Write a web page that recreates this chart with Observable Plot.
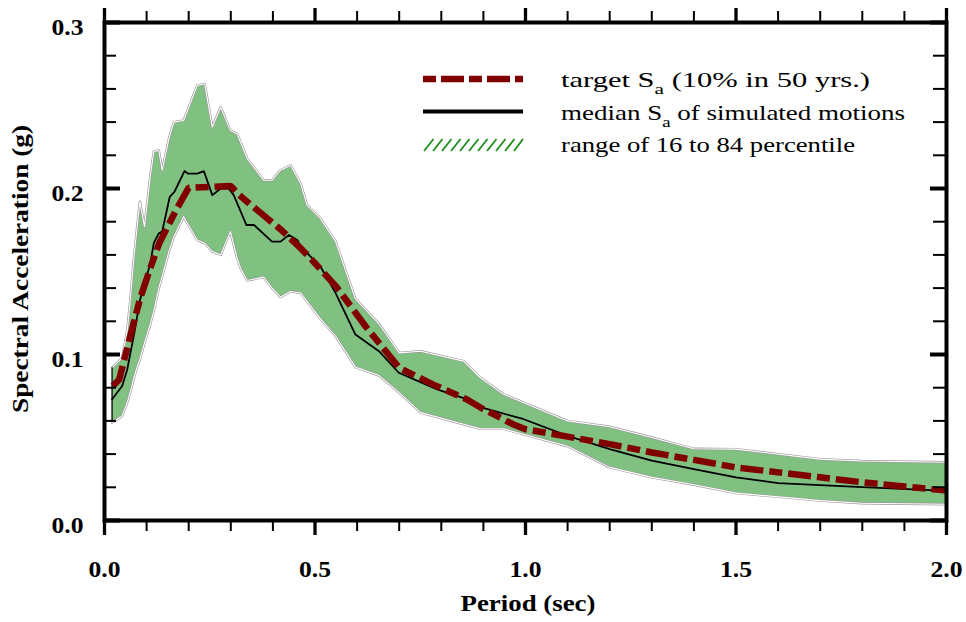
<!DOCTYPE html>
<html><head><meta charset="utf-8">
<script src="https://cdn.jsdelivr.net/npm/d3@7"></script>
<script src="https://cdn.jsdelivr.net/npm/@observablehq/plot@0.6"></script>
<style>body{margin:0;background:#fff}</style>
</head><body><div id="chart"></div>
<script>
// ---- data ----
const bandPeriod = [0.018,0.042,0.054,0.062,0.07,0.078,0.084,0.095,0.109,0.117,0.129,0.137,0.153,0.161,0.165,0.188,0.22,0.238,0.256,0.276,0.299,0.315,0.323,0.339,0.378,0.398,0.418,0.442,0.466,0.481,0.513,0.549,0.596,0.652,0.70,0.751,0.853,0.893,0.948,1.1,1.2,1.3,1.4,1.5,1.7,1.8,2.0];
const bandHigh = [0.092,0.098,0.1145,0.135,0.159,0.178,0.192,0.177,0.208,0.222,0.223,0.211,0.23,0.237,0.24,0.241,0.262,0.263,0.237,0.249,0.235,0.233,0.228,0.218,0.205,0.205,0.211,0.214,0.203,0.19,0.182,0.168,0.1335,0.1185,0.101,0.102,0.096,0.086,0.076,0.06,0.0565,0.05,0.0432,0.043,0.037,0.0358,0.0351];
const bandLow = [0.059,0.063,0.071,0.078,0.086,0.093,0.097,0.107,0.1185,0.126,0.14,0.147,0.162,0.168,0.171,0.183,0.169,0.167,0.162,0.16,0.174,0.158,0.152,0.1446,0.1466,0.14,0.1345,0.138,0.137,0.132,0.1215,0.111,0.0924,0.0873,0.077,0.065,0.058,0.0552,0.0552,0.0447,0.032,0.026,0.0215,0.0165,0.012,0.0104,0.0098];

const medianPeriod = [0.018,0.042,0.054,0.072,0.084,0.109,0.117,0.129,0.137,0.155,0.166,0.19,0.198,0.22,0.236,0.256,0.276,0.295,0.307,0.337,0.355,0.398,0.418,0.438,0.458,0.466,0.513,0.549,0.596,0.652,0.699,0.79,0.862,0.897,0.996,1.1,1.2,1.3,1.4,1.5,1.6,1.8,2.0];
const medianSa = [0.073,0.081,0.091,0.1145,0.1325,0.155,0.167,0.173,0.174,0.195,0.198,0.2105,0.209,0.209,0.2105,0.196,0.2,0.2,0.196,0.178,0.178,0.168,0.168,0.172,0.169,0.165,0.153,0.137,0.112,0.102,0.089,0.079,0.073,0.068,0.061,0.051,0.043,0.036,0.031,0.026,0.0225,0.0201,0.0178];

const targetPeriod = [0.02,0.035,0.06,0.085,0.11,0.13,0.17,0.2,0.3,0.32,0.42,0.47,0.5,0.55,0.62,0.7,0.78,0.86,0.9,0.94,0.97,1.0,1.1,1.2,1.3,1.4,1.5,1.6,1.7,1.8,1.9,2.0];
const targetSa = [0.081,0.085,0.11,0.134,0.153,0.167,0.187,0.2005,0.2015,0.196,0.175,0.163,0.155,0.141,0.117,0.092,0.082,0.073,0.067,0.062,0.058,0.055,0.0505,0.046,0.041,0.0365,0.032,0.029,0.026,0.023,0.0205,0.018];

const xMajorTicks = [0, 0.5, 1.0, 1.5, 2.0];
const xMinorTicks = [0.1,0.2,0.3,0.4,0.6,0.7,0.8,0.9,1.1,1.2,1.3,1.4,1.6,1.7,1.8,1.9];
const yMajorTicks = [0, 0.1, 0.2, 0.3];
const yMinorTicks = [0.02,0.04,0.06,0.08,0.12,0.14,0.16,0.18,0.22,0.24,0.26,0.28];

const legendLabels = ["target S", "a", " (10% in 50 yrs.)", "median S", "a", " of simulated motions", "range of 16 to 84 percentile"];
const xTitle = "Period (sec)";
const yTitle = "Spectral Acceleration (g)";

// ---- layout ----
const W = 966, H = 622, mL = 104, mR = 20, mT = 22, mB = 102;
const plotW = W - mL - mR;
const serif = "Liberation Serif, Times New Roman, DejaVu Serif, serif";

const band = bandPeriod.map((t, i) => ({t, lo: bandLow[i], hi: bandHigh[i]}));
const median = medianPeriod.map((t, i) => ({t, sa: medianSa[i]}));
const target = targetPeriod.map((t, i) => ({t, sa: targetSa[i]}));

const tickTextOpts = {fontSize: 23, fontWeight: "bold", fontFamily: serif, label: null, tickFormat: d => d.toFixed(1)};

const chart = Plot.plot({
  width: W, height: H,
  marginLeft: mL, marginRight: mR, marginTop: mT, marginBottom: mB,
  x: {domain: [0, 2]},
  y: {domain: [0, 0.3]},
  style: {fontFamily: serif, background: "white", overflow: "visible"},
  marks: [
    Plot.areaY(band, {x: "t", y1: "lo", y2: "hi", fill: "#80c080"}),
    Plot.lineY(band, {x: "t", y: "hi", stroke: "#9a9a9a", strokeWidth: 2.4}),
    Plot.lineY(band, {x: "t", y: "hi", stroke: "white", strokeWidth: 1.1}),
    Plot.lineY(band, {x: "t", y: "lo", stroke: "#9a9a9a", strokeWidth: 2.4}),
    Plot.lineY(band, {x: "t", y: "lo", stroke: "white", strokeWidth: 1.1}),
    Plot.ruleX(band.slice(0, 1), {x: "t", y1: "lo", y2: "hi", stroke: "black", strokeWidth: 1.2}),
    Plot.lineY(median, {x: "t", y: "sa", stroke: "black", strokeWidth: 1.8}),
    Plot.lineY(target, {x: "t", y: "sa", stroke: "#800000", strokeWidth: 6.5, strokeDasharray: "23,6,13,6", strokeLinecap: "butt", strokeLinejoin: "miter"}),
    Plot.frame({stroke: "black", strokeWidth: 4}),
    // x ticks (outward)
    Plot.axisX(xMinorTicks, {anchor: "bottom", tickSize: 11, strokeWidth: 2, tickFormat: () => "", label: null}),
    Plot.axisX(xMajorTicks, {anchor: "bottom", tickSize: 15, strokeWidth: 3.3, tickFormat: () => "", label: null}),
    Plot.axisX(xMinorTicks, {anchor: "top", tickSize: 12, strokeWidth: 2, tickFormat: () => "", label: null}),
    Plot.axisX(xMajorTicks, {anchor: "top", tickSize: 15, strokeWidth: 3.3, tickFormat: () => "", label: null}),
    Plot.axisX(xMajorTicks, {anchor: "bottom", tickSize: 0, tickPadding: 40, ...tickTextOpts}),
    // y ticks (inward)
    Plot.tickY(yMinorTicks, {y: d => d, insetRight: plotW - 12, strokeWidth: 2}),
    Plot.tickY(yMajorTicks, {y: d => d, insetRight: plotW - 16, strokeWidth: 4}),
    Plot.tickY(yMinorTicks, {y: d => d, insetLeft: plotW - 13, strokeWidth: 2}),
    Plot.tickY(yMajorTicks, {y: d => d, insetLeft: plotW - 16, strokeWidth: 4}),
    Plot.axisY(yMajorTicks, {anchor: "left", tickSize: 0, tickPadding: 21, dy: 5, ...tickTextOpts})
  ]
});
document.getElementById("chart").appendChild(chart);

const svg = d3.select(chart);
// compress tick labels to the reference widths
svg.selectAll('g[aria-label="x-axis tick label"] text, g[aria-label="y-axis tick label"] text')
  .each(function() { if (this.textContent) d3.select(this).attr("textLength", 32).attr("lengthAdjust", "spacingAndGlyphs"); });

// ---- legend and titles ----
const lg = svg.append("g").attr("text-anchor", "start");
lg.append("line").attr("x1", 423).attr("x2", 523).attr("y1", 79).attr("y2", 79)
  .attr("stroke", "#800000").attr("stroke-width", 6.5).attr("stroke-dasharray", "13,5,23,5");
lg.append("line").attr("x1", 423).attr("x2", 523).attr("y1", 111.5).attr("y2", 111.5)
  .attr("stroke", "black").attr("stroke-width", 4);
for (let i = 0; i < 11; i++) {
  const x0 = 424 + i * 9;
  lg.append("line").attr("x1", x0).attr("y1", 151).attr("x2", Math.min(x0 + 9.5, 523)).attr("y2", 139)
    .attr("stroke", "#1a8f1a").attr("stroke-width", 1.8);
}
function legendText(y, len, parts) {
  const t = lg.append("text").attr("x", 561).attr("y", y).attr("text-anchor", "start")
    .attr("font-family", serif).attr("font-size", 21.5).attr("fill", "black")
    .attr("textLength", len).attr("lengthAdjust", "spacingAndGlyphs");
  parts.forEach(p => {
    const s = t.append("tspan").text(p.text);
    if (p.sub) s.attr("font-size", 15).attr("dy", 7);
    if (p.after) s.attr("dy", -7);
  });
}
legendText(87, 309, [{text: legendLabels[0]}, {text: legendLabels[1], sub: true}, {text: legendLabels[2], after: true}]);
legendText(120, 344, [{text: legendLabels[3]}, {text: legendLabels[4], sub: true}, {text: legendLabels[5], after: true}]);
legendText(152, 294, [{text: legendLabels[6]}]);

svg.append("text").attr("x", 528).attr("y", 611).attr("text-anchor", "middle")
  .attr("font-family", serif).attr("font-weight", "bold").attr("font-size", 23)
  .attr("textLength", 135).attr("lengthAdjust", "spacingAndGlyphs").text(xTitle);
svg.append("text").attr("transform", "translate(28,269) rotate(-90)").attr("text-anchor", "middle")
  .attr("font-family", serif).attr("font-weight", "bold").attr("font-size", 23)
  .attr("textLength", 288).attr("lengthAdjust", "spacingAndGlyphs").text(yTitle);
</script>
</body></html>
